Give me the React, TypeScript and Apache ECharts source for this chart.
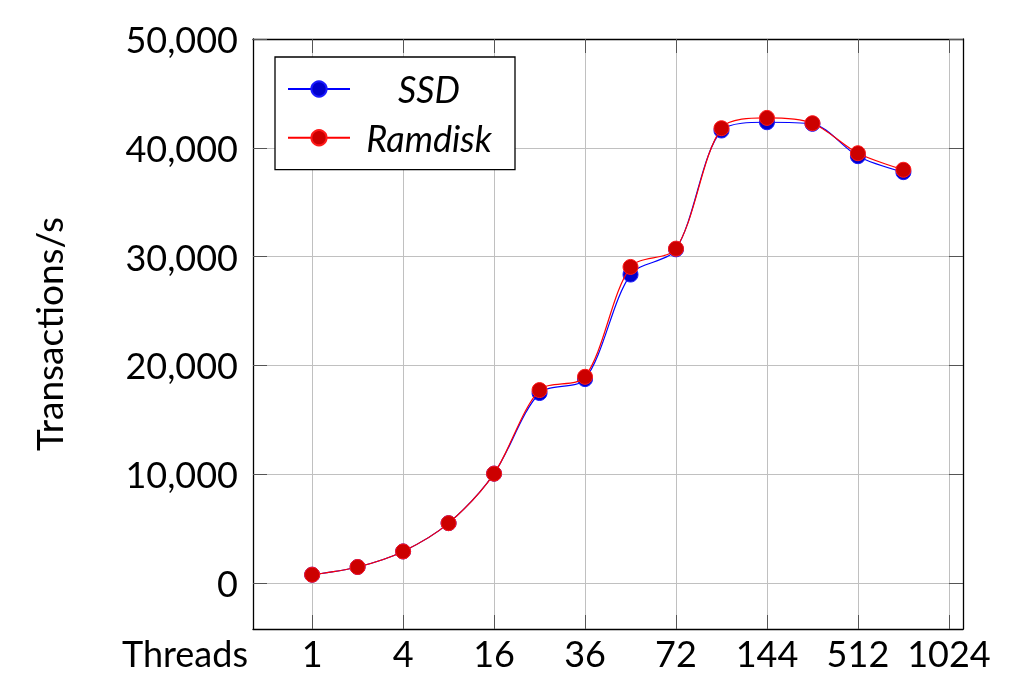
import React, { useEffect, useRef } from "react";
import * as echarts from "echarts";

const threadLabels = ["1", "", "4", "", "16", "", "36", "", "72", "", "144", "", "512", "", "1024"];
const ssd = [760, 1470, 2900, 5500, 10050, 17460, 18740, 28350, 30670, 41590, 42350, 42200, 39230, 37760];
const ramdisk = [760, 1470, 2900, 5500, 10050, 17730, 18950, 29050, 30730, 41800, 42750, 42260, 39500, 37980];
const yTicks = [0, 10000, 20000, 30000, 40000, 50000];
const xTicks = [0, 2, 4, 6, 8, 10, 12, 14];

const FONT = "Lato";

export default function App() {
  const ref = useRef<HTMLDivElement>(null);
  useEffect(() => {
    if (!ref.current) return;
    const chart = echarts.init(ref.current, null, { renderer: "svg" });
    const tickStyle = { show: true, inside: true, length: 14, customValues: xTicks, lineStyle: { color: "#555", width: 1 } };
    const yTickStyle = { show: true, inside: true, length: 14, customValues: yTicks, lineStyle: { color: "#555", width: 1 } };
    const axisLine = { show: true, onZero: false, lineStyle: { color: "#000", width: 1.3 } };
    const split = { show: true, lineStyle: { color: "#c0c0c0", width: 1 } };
    chart.setOption({
      animation: false,
      grid: { left: 253, top: 39, right: 48, bottom: 69 },
      legend: {
        left: 275,
        top: 57,
        orient: "vertical",
        padding: [14, 12, 14, 12],
        itemWidth: 62,
        itemHeight: 19,
        itemGap: 12.7,
        borderColor: "#000",
        borderWidth: 1.3,
        backgroundColor: "#fff",
        data: ["SSD", "Ramdisk"],
        formatter: (name: string) => `{c|${name}}`,
        textStyle: {
          fontFamily: FONT,
          fontSize: 36,
          fontStyle: "italic",
          color: "#000",
          lineHeight: 36,
          rich: { c: { width: 148, align: "center", fontFamily: FONT, fontSize: 36, fontStyle: "italic", lineHeight: 36 } },
        },
      },
      xAxis: [
        {
          type: "value",
          min: -1.3,
          max: 14.31,
          position: "bottom",
          axisLine,
          axisTick: tickStyle,
          splitLine: split,
          axisLabel: {
            customValues: xTicks,
            formatter: (v: number) => threadLabels[Math.round(v)] ?? "",
            fontFamily: FONT,
            fontSize: 36,
            color: "#000",
            margin: 6,
          },
          name: "Threads",
          nameLocation: "start",
          nameGap: 5,
          nameTextStyle: { fontFamily: FONT, fontSize: 36, color: "#000", align: "right", verticalAlign: "top", padding: [6, 0, 0, 0] },
        },
        {
          type: "value",
          min: -1.3,
          max: 14.31,
          position: "top",
          axisLine,
          axisTick: tickStyle,
          splitLine: { show: false },
          axisLabel: { show: false },
        },
      ],
      yAxis: [
        {
          type: "value",
          min: -4230,
          max: 50000,
          position: "left",
          axisLine,
          axisTick: yTickStyle,
          splitLine: split,
          axisLabel: {
            customValues: yTicks,
            formatter: (v: number) => v.toLocaleString("en-US"),
            fontFamily: FONT,
            fontSize: 36,
            color: "#000",
            margin: 15,
          },
          name: "Transactions/s",
          nameLocation: "middle",
          nameGap: 186,
          nameTextStyle: { fontFamily: FONT, fontSize: 37, color: "#000" },
        },
        {
          type: "value",
          min: -4230,
          max: 50000,
          position: "right",
          axisLine,
          axisTick: yTickStyle,
          splitLine: { show: false },
          axisLabel: { show: false },
        },
      ],
      series: [
        {
          name: "SSD",
          type: "line",
          data: ssd.map((v, i) => [i, v]),
          smooth: 0.3,
          symbol: "circle",
          symbolSize: 15,
          lineStyle: { color: "#0000ff", width: 1.2 },
          itemStyle: { color: "#0000cc", borderColor: "#1a1aff", borderWidth: 1 },
          z: 2,
        },
        {
          name: "Ramdisk",
          type: "line",
          data: ramdisk.map((v, i) => [i, v]),
          smooth: 0.3,
          symbol: "circle",
          symbolSize: 15,
          lineStyle: { color: "#ff0000", width: 1.2 },
          itemStyle: { color: "#cc0000", borderColor: "#ff1a1a", borderWidth: 1 },
          z: 3,
        },
      ],
    });
    return () => chart.dispose();
  }, []);
  return <div ref={ref} style={{ position: "fixed", left: 0, top: 0, width: 1011, height: 698 }} />;
}
